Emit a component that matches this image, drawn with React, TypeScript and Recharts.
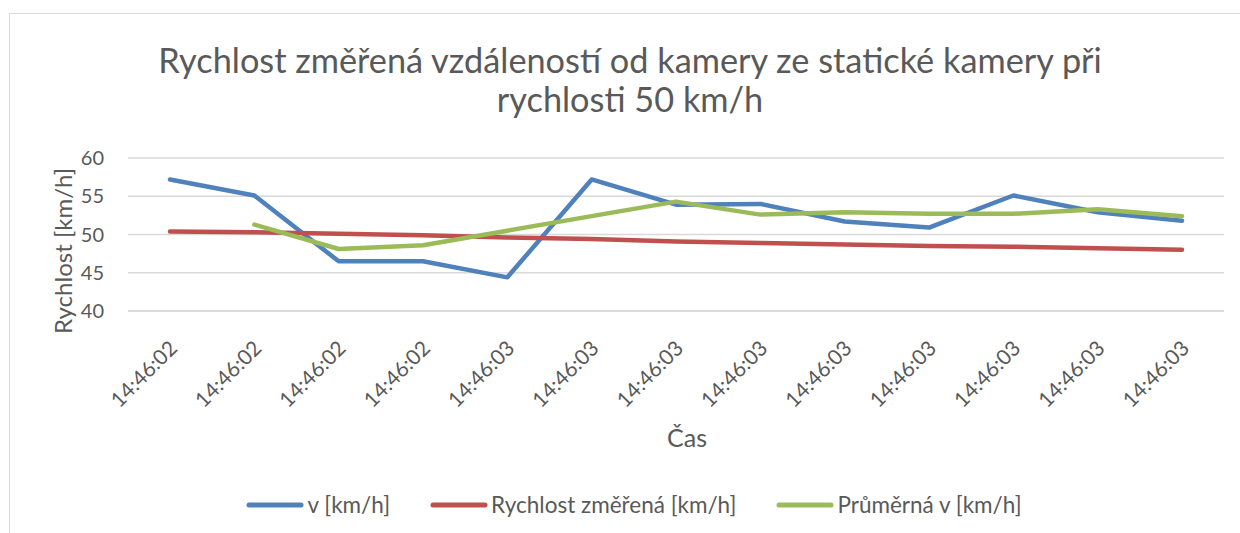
import { LineChart, Line, XAxis, YAxis, CartesianGrid, Legend } from 'recharts';

const times = [
  '14:46:02', '14:46:02', '14:46:02', '14:46:02', '14:46:03', '14:46:03', '14:46:03',
  '14:46:03', '14:46:03', '14:46:03', '14:46:03', '14:46:03', '14:46:03',
];
const vKmh = [57.2, 55.1, 46.5, 46.5, 44.4, 57.2, 53.9, 54.0, 51.7, 50.9, 55.1, 52.9, 51.8];
const measured = [50.4, 50.3, 50.1, 49.9, 49.6, 49.4, 49.1, 48.9, 48.7, 48.5, 48.4, 48.2, 48.0];
const average = [null, 51.3, 48.1, 48.6, 50.5, 52.4, 54.3, 52.6, 52.9, 52.7, 52.7, 53.3, 52.4];
const yTicks = [40, 45, 50, 55, 60];

const data = times.map((t, i) => ({
  time: t,
  v: vKmh[i],
  measured: measured[i],
  average: average[i],
}));

const FONT = 'Lato, "Open Sans", sans-serif';
const GREY = '#595959';

const series = [
  { key: 'v', name: 'v [km/h]', color: '#4F81BD' },
  { key: 'measured', name: 'Rychlost změřená [km/h]', color: '#C0504D' },
  { key: 'average', name: 'Průměrná v [km/h]', color: '#9BBB59' },
];

function TimeTick(props: any) {
  const { x, y, payload } = props;
  return (
    <g transform={`translate(${x - 2},${y + 22})`}>
      <text transform="rotate(-45)" textAnchor="end" dy="0.71em" fill={GREY} stroke="none" fontSize={21} fontFamily={FONT}>
        {payload.value}
      </text>
    </g>
  );
}

function LegendContent() {
  return (
    <div style={{ display: 'flex', justifyContent: 'center', gap: 40, fontFamily: FONT, fontSize: 22.5, color: GREY }}>
      {series.map((s) => (
        <div key={s.key} style={{ display: 'flex', alignItems: 'center' }}>
          <svg width={58} height={10} style={{ marginRight: 3 }}>
            <line x1={3} y1={5} x2={55} y2={5} stroke={s.color} strokeWidth={5} strokeLinecap="round" />
          </svg>
          <span>{s.name}</span>
        </div>
      ))}
    </div>
  );
}

export default function App() {
  return (
    <div style={{ position: 'fixed', left: 0, top: 0, width: 1240, height: 533, overflow: 'hidden', background: '#fff' }}>
      <div
        style={{
          position: 'absolute', left: 9, top: 13, width: 1260, height: 560,
          border: '1.5px solid #d9d9d9', boxSizing: 'border-box',
        }}
      />
      <div
        style={{
          position: 'absolute', left: 0, top: 40, width: 1260, textAlign: 'center',
          fontFamily: FONT, fontSize: 34.3, lineHeight: '39px', color: GREY,
        }}
      >
        Rychlost změřená vzdáleností od kamery ze statické kamery při
        <br />
        rychlosti 50 km/h
      </div>
      <div style={{ position: 'absolute', left: 0, top: 0 }}>
        <LineChart width={1240} height={533} data={data} margin={{ top: 158, right: 16, left: 68, bottom: 82 }}>
          <CartesianGrid vertical={false} stroke="#d9d9d9" strokeWidth={1.5} />
          <XAxis
            dataKey="time"
            interval={0}
            height={140}
            padding={{ left: 42, right: 42 }}
            axisLine={{ stroke: '#d9d9d9', strokeWidth: 1.5 }}
            tickLine={false}
            tickMargin={0}
            tick={<TimeTick />}
            label={{ value: 'Čas', position: 'insideBottom', offset: 4, dx: 11, fill: GREY, fontSize: 25, fontFamily: FONT }}
          />
          <YAxis
            domain={[40, 60]}
            ticks={yTicks}
            width={60}
            axisLine={false}
            tickLine={false}
            tickMargin={18}
            tick={{ fill: GREY, fontSize: 20, fontFamily: FONT }}
            label={{
              content: () => (
                <text
                  x={62}
                  y={251}
                  transform="rotate(-90 62 251)"
                  textAnchor="middle"
                  dominantBaseline="central"
                  fill={GREY}
                  fontSize={24}
                  fontFamily={FONT}
                >
                  Rychlost [km/h]
                </text>
              ),
            }}
          />
          <Legend
            layout="horizontal"
            verticalAlign="middle"
            align="center"
            wrapperStyle={{ top: 491, left: 0, width: 1268 }}
            content={() => <LegendContent />}
          />
          {series.map((s) => (
            <Line
              key={s.key}
              type="linear"
              dataKey={s.key}
              name={s.name}
              stroke={s.color}
              strokeWidth={4.5}
              strokeLinecap="round"
              strokeLinejoin="round"
              dot={false}
              activeDot={false}
              isAnimationActive={false}
            />
          ))}
        </LineChart>
      </div>
    </div>
  );
}
